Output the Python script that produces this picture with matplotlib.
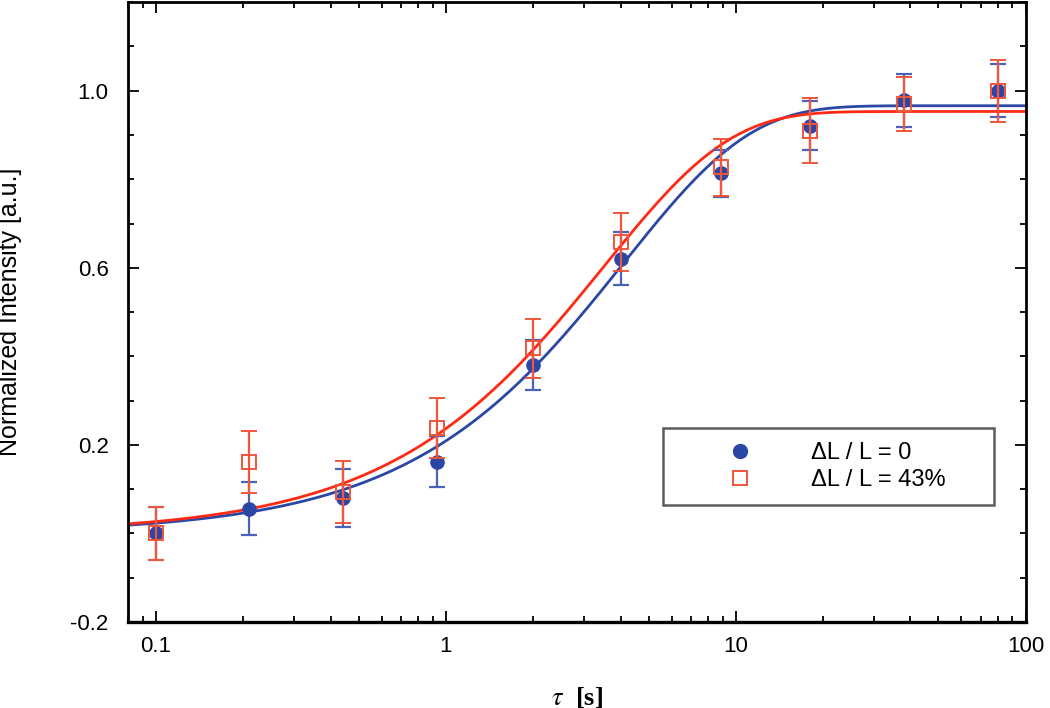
import numpy as np
import matplotlib
matplotlib.use('Agg')
import matplotlib.pyplot as plt
from matplotlib.lines import Line2D
from matplotlib.ticker import FixedLocator, LogLocator, NullFormatter

plt.rcParams['font.family'] = ['Liberation Sans', 'DejaVu Sans']
plt.rcParams['mathtext.fontset'] = 'stix'

# measured points
tau = [0.1, 0.21, 0.44, 0.93, 2.0, 4.0, 8.9, 18, 38, 80]
I_0 = [0.0, 0.056, 0.08, 0.162, 0.38, 0.62, 0.813, 0.921, 0.978, 1.0]
err_0 = [0.06, 0.06, 0.065, 0.057, 0.057, 0.06, 0.053, 0.056, 0.06, 0.06]
I_43 = [0.0, 0.162, 0.094, 0.238, 0.418, 0.658, 0.827, 0.91, 0.97, 1.0]
err_43 = [0.06, 0.07, 0.07, 0.067, 0.066, 0.066, 0.064, 0.073, 0.062, 0.07]
labels = ['\u0394L / L = 0', '\u0394L / L = 43%']

# fit parameters  I = A * (1 - exp(-tau / T))
A_0, T_0 = 0.966, 4.1
A_43, T_43 = 0.953, 3.5

blue = '#2b47a6'
blue_err = '#4a63b8'
red = '#ff2a14'
red_err = '#f2553a'

fig = plt.figure(figsize=(10.5, 7.08), dpi=100)
ax = fig.add_axes([0.1219, 0.1215, 0.855, 0.8755])

t = np.logspace(np.log10(0.08), 2, 400)
ax.plot(t, A_0 * (1 - np.exp(-t / T_0)), color=blue, lw=2, zorder=2)
ax.plot(t, A_43 * (1 - np.exp(-t / T_43)), color=red, lw=2, zorder=2)

ax.errorbar(tau, I_0, yerr=err_0, fmt='o', color=blue, ecolor=blue_err,
            ms=9.5, elinewidth=1.6, capsize=6, capthick=1.6, zorder=3)
ax.errorbar(tau, I_43, yerr=err_43, fmt='s', mfc='none', mec=red_err,
            ecolor=red_err, ms=10, mew=1.4, elinewidth=1.6, capsize=6,
            capthick=1.6, zorder=4)

ax.set_xscale('log')
ax.set_xlim(0.08, 100)
ax.set_ylim(-0.2, 1.2)
ax.set_xticks([0.1, 1, 10, 100])
ax.set_xticklabels(['0.1', '1', '10', '100'])
ax.xaxis.set_minor_locator(LogLocator(base=10, subs=np.arange(2, 10)))
ax.xaxis.set_minor_formatter(NullFormatter())
ax.set_yticks([-0.2, 0.2, 0.6, 1.0])
ax.set_yticklabels(['-0.2', '0.2', '0.6', '1.0'])
ax.yaxis.set_minor_locator(FixedLocator(np.arange(-0.2, 1.21, 0.1)))

ax.tick_params(which='both', direction='in', top=True, right=True,
               labelsize=16, width=1.3)
ax.tick_params(which='major', length=8)
ax.tick_params(axis='x', which='major', pad=10)
ax.tick_params(axis='y', which='major', pad=14)
ax.tick_params(which='minor', length=4)
for s in ax.spines.values():
    s.set_linewidth(2)
ax.spines['bottom'].set_linewidth(2.4)

ax.set_ylabel('Normalized Intensity [a.u.]', fontsize=18)
ax.yaxis.set_label_coords(-0.118, 0.5)
ax.set_xlabel(r'$\tau$  [s]', fontsize=19, family='Liberation Serif',
              fontweight='bold', labelpad=20)

handles = [Line2D([], [], ls='none', marker='o', color=blue, ms=10),
           Line2D([], [], ls='none', marker='s', mfc='none', mec=red_err,
                  ms=10, mew=1.4)]
leg = ax.legend(handles, labels, loc='upper left', mode='expand',
                bbox_to_anchor=(0.596, 0.10, 0.3686, 0.213), borderaxespad=0,
                fontsize=17, frameon=True, fancybox=False, edgecolor='#333333',
                borderpad=0.6, handlelength=5.3, handletextpad=0.35,
                labelspacing=0.2)
leg.get_frame().set_linewidth(1.8)

fig.savefig('out.png', dpi=100)
